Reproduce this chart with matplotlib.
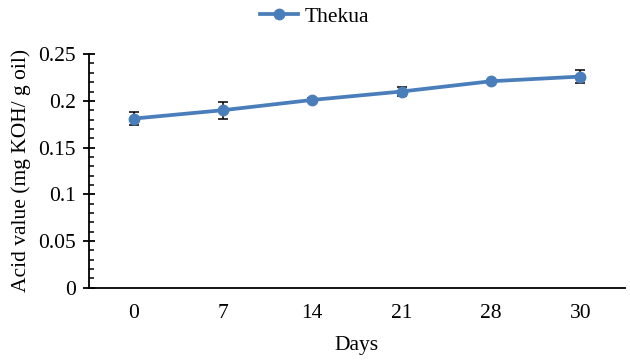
import matplotlib.pyplot as plt
from matplotlib.ticker import MultipleLocator

days = ['0', '7', '14', '21', '28', '30']
acid_value = [0.181, 0.190, 0.201, 0.210, 0.221, 0.226]
acid_err = [0.0066, 0.0092, 0.0018, 0.0045, 0.0018, 0.0072]

plt.rcParams['font.family'] = ['Liberation Serif', 'DejaVu Serif']

fig = plt.figure(figsize=(6.3, 3.61), dpi=100)
ax = fig.add_axes([0.141, 0.203, 0.851, 0.647])

x = range(len(days))
ax.errorbar(x, acid_value, yerr=acid_err, color='#4a7ebb', lw=2.7,
            marker='o', markersize=7.5, ecolor='black', elinewidth=1.1,
            capsize=3.5, capthick=1.1, label='Thekua', zorder=3)

ax.set_xlim(-0.5, len(days) - 0.5)
ax.set_ylim(0, 0.25)
ax.set_xticks(list(x))
ax.set_xticklabels(days)
ax.yaxis.set_minor_locator(MultipleLocator(0.01))
ax.set_yticks([0, 0.05, 0.1, 0.15, 0.2, 0.25])
ax.set_yticklabels(['0', '0.05', '0.1', '0.15', '0.2', '0.25'])

ax.spines['top'].set_visible(False)
ax.spines['right'].set_visible(False)
ax.spines['left'].set_linewidth(1.3)
ax.spines['bottom'].set_linewidth(1.3)
ax.tick_params(axis='x', length=0, labelsize=15.5, pad=12)
ax.tick_params(axis='y', which='major', direction='inout', length=8.5,
               width=1.3, labelsize=15.5, pad=5)
ax.tick_params(axis='y', which='minor', direction='in', length=3.6, width=1.1)

ax.set_xlabel('Days', fontsize=15.5, labelpad=9)
ax.set_ylabel('Acid value (mg KOH/ g oil)', fontsize=15.5, labelpad=5)

handles, labels = ax.get_legend_handles_labels()
h = handles[0][0] if isinstance(handles[0], tuple) else handles[0]
fig.legend([h], labels, loc='upper center', bbox_to_anchor=(0.499, 1.035),
           frameon=False, fontsize=15.5, handlelength=1.75, handletextpad=0.3)

fig.savefig('out.png', dpi=100)
